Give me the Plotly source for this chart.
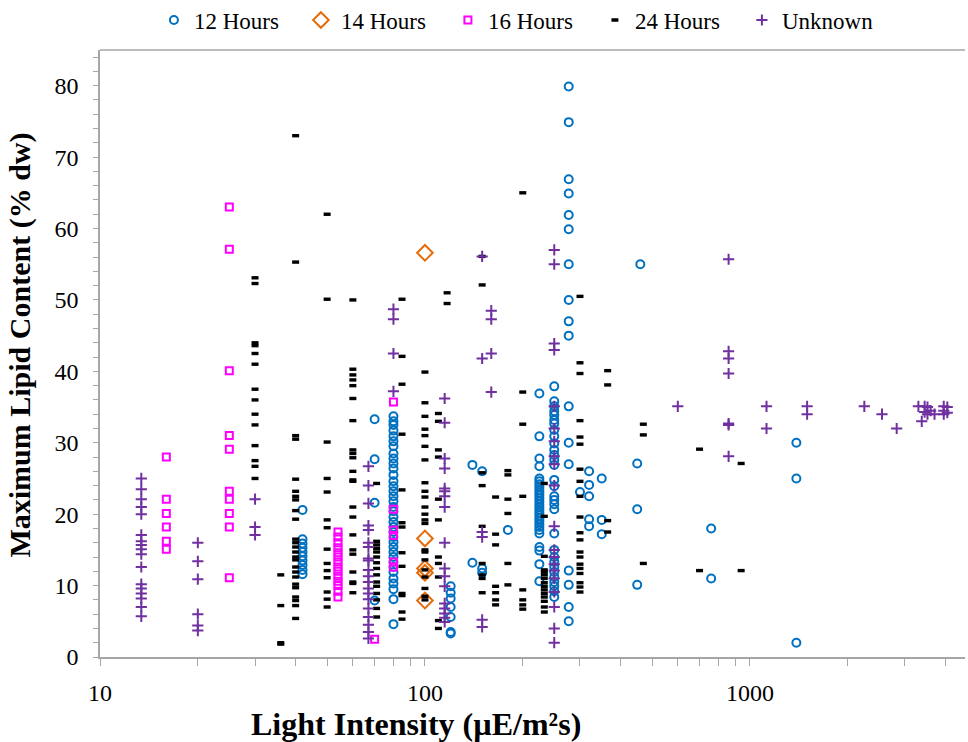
import plotly.graph_objects as go

# Light intensity (µE/m²s) -> maximum lipid content values (% dw), one dict per photoperiod
h12 = {
    42: [20.6, 16.5, 15.9, 15.3, 14.7, 14.1, 13.5, 12.9, 12.2, 11.6],
    70: [33.3, 27.7, 21.6, 7.9],
    80: [33.7, 33.0, 32.5, 31.7, 30.9, 30.2, 29.5, 28.5, 27.8, 27.1, 26.4, 25.5, 24.6, 23.9,
         23.2, 22.5, 21.8, 21.0, 20.4, 19.6, 18.9, 18.2, 17.5, 16.8, 16.1, 15.4, 14.7, 14.0,
         13.3, 12.6, 11.9, 11.0, 10.3, 9.5, 8.1, 4.6],
    120: [9.9, 9.0, 8.2, 7.0, 5.6, 3.5, 3.3],
    140: [26.9, 13.2],
    150: [26.0, 12.4, 11.8],
    180: [17.8],
    225: [36.9, 30.9, 27.8, 26.7, 25.0, 24.6, 24.2, 23.8, 23.4, 23.0, 22.6, 22.2, 21.8, 21.4,
          21.0, 20.6, 20.2, 19.8, 19.4, 19.0, 18.6, 18.2, 17.8, 17.3, 15.4, 14.9, 13.0, 10.6],
    250: [37.9, 35.8, 35.1, 34.4, 33.9, 33.2, 32.7, 31.8, 30.9, 29.9, 29.0, 28.3, 27.6, 26.9,
          24.8, 23.9, 22.5, 22.0, 21.4, 20.7, 17.3, 15.0, 14.0, 13.3, 12.6, 11.9, 11.2, 10.5,
          9.9, 9.2, 8.4],
    277: [79.9, 74.9, 66.9, 64.9, 61.9, 59.9, 55.0, 50.0, 47.0, 45.0, 35.1, 30.0, 27.0, 12.1,
          10.1, 7.0, 5.0],
    300: [23.1],
    320: [26.0, 24.1, 22.5, 19.3, 18.3],
    350: [25.0, 19.2, 17.2],
    450: [27.1, 20.7, 10.1],
    460: [55.0],
    760: [18.0, 11.0],
    1390: [30.0, 25.0, 2.0],
}

h14 = {
    100: [56.6, 16.6, 12.4, 11.8, 7.9],
}

h16 = {
    16: [28.0, 22.1, 20.1, 18.2, 16.2, 15.1],
    25: [63.0, 57.1, 40.1, 31.0, 29.1, 23.2, 22.1, 20.1, 18.2, 11.1],
    54: [17.5, 16.8, 16.0, 15.3, 14.6, 14.0, 13.3, 12.6, 12.0, 11.3, 10.6, 10.0, 9.2, 8.4],
    70: [2.5],
    80: [35.7, 20.7, 17.8, 17.0, 13.3, 12.6],
}

h24 = {
    30: [53.1, 52.3, 44.0, 43.6, 42.5, 41.0, 37.5, 36.0, 34.0, 32.5, 29.6, 27.5, 26.7, 25.0],
    36: [11.5, 7.2, 2.0, 1.8],
    40: [73.0, 55.3, 31.0, 30.5, 24.9, 23.2, 22.5, 22.0, 20.5, 19.3, 16.5, 16.0, 15.4, 14.7,
         14.0, 13.6, 12.6, 11.9, 11.2, 10.2, 9.7, 8.4, 7.9, 7.2, 5.4],
    50: [62.0, 50.1, 30.1, 25.0, 23.1, 19.2, 18.1, 15.1, 13.1, 12.1, 11.1, 9.1, 8.1, 7.0],
    60: [50.0, 40.3, 39.5, 38.8, 38.0, 36.2, 33.1, 29.0, 28.5, 27.9, 26.0, 24.8, 24.6, 21.0,
         19.6, 17.1, 15.0, 14.4, 11.9, 10.5, 10.3, 9.0],
    71: [24.3, 16.2, 15.7, 15.2, 14.7, 14.0, 13.2, 12.4, 11.5, 10.5, 9.9, 8.9, 8.0, 6.8, 5.6],
    85: [50.1, 42.1, 38.2, 31.2, 23.4, 18.8, 18.2, 14.6, 12.7, 8.9, 8.6, 6.3, 5.3],
    100: [39.9, 35.6, 33.7, 31.9, 31.0, 29.5, 27.6, 24.4, 23.2, 22.4, 21.0, 20.0, 19.2, 18.7,
          15.0, 14.7, 13.6, 12.2, 11.2, 9.6, 8.5, 8.0],
    110: [34.1, 33.0, 29.0, 28.0, 22.1, 19.2, 14.0, 13.1, 11.2, 5.1, 4.0],
    117: [51.0, 49.5],
    150: [56.1, 52.1, 25.8, 24.0, 18.3, 13.1, 11.5, 11.0, 9.0],
    165: [22.4, 17.2, 15.7, 9.9, 9.0, 8.0, 7.3],
    180: [26.1, 25.5, 22.1, 20.1, 13.1, 10.1],
    200: [65.0, 37.1, 32.6, 22.5, 9.4, 8.0, 7.3, 6.7],
    233: [24.3, 19.7, 14.1, 12.2, 11.9, 11.5, 11.0, 10.4, 9.9, 9.4, 8.9, 8.4, 7.8, 7.0, 6.3],
    300: [50.5, 41.2, 39.7, 33.1, 30.8, 29.8, 26.3, 24.6, 22.5, 19.6, 17.4, 16.4, 14.7, 14.0,
          13.0, 12.4, 11.7, 10.4, 9.8, 9.1],
    365: [40.1, 38.1, 19.1, 17.5],
    470: [32.6, 31.1, 13.1],
    700: [29.1, 12.1],
    940: [27.1, 12.1],
}

unknown = {
    13.4: [25.0, 23.5, 22.1, 21.0, 20.0, 17.1, 16.2, 15.7, 15.1, 14.4, 12.6, 10.2, 9.6, 8.9,
           8.2, 7.0, 5.7],
    20: [16.0, 13.4, 10.9, 6.0, 4.4, 3.7],
    30: [22.1, 18.2, 17.1],
    67: [26.7, 24.0, 21.5, 18.4, 17.8, 16.0, 15.4, 13.8, 13.5, 12.2, 11.3, 10.5, 9.6, 8.9,
         8.1, 6.8, 5.6, 4.5, 3.5, 2.6],
    80: [48.7, 47.3, 42.5, 37.2],
    115: [36.2, 32.8, 27.8, 26.4, 23.6, 23.2, 22.5, 21.0, 16.0, 12.4, 11.3, 9.9, 7.5, 6.8,
          6.1, 5.5, 4.9],
    150: [56.1, 41.8, 17.5, 16.8, 5.2, 4.2],
    160: [48.5, 47.3, 42.5, 37.1],
    250: [57.0, 55.0, 43.9, 43.0, 35.1, 32.0, 30.2, 28.1, 27.0, 24.0, 18.3, 15.0, 14.0, 13.0,
          12.1, 11.0, 9.1, 7.0, 4.0, 2.0],
    600: [35.1],
    860: [55.7, 42.8, 41.8, 39.7, 32.7, 32.5, 28.1],
    1125: [35.1, 32.0],
    1500: [35.1, 34.0],
    2250: [35.1],
    2550: [34.0],
    2830: [32.0],
    3300: [35.1],
    3380: [33.0],
    3450: [35.1, 34.3],
    3520: [35.0, 34.0],
    3600: [34.5],
    3700: [34.0],
    3950: [35.1, 34.5, 34.0],
    4050: [35.0, 34.2],
}

series_names = ["12 Hours", "14 Hours", "16 Hours", "24 Hours", "Unknown"]

x_tick_values = [10, 20, 30, 40, 50, 60, 70, 80, 90,
                 100, 200, 300, 400, 500, 600, 700, 800, 900,
                 1000, 2000, 3000, 4000]
x_tick_labels = ["10", "", "", "", "", "", "", "", "",
                 "100", "", "", "", "", "", "", "", "",
                 "1000", "", "", ""]
y_tick_values = list(range(0, 85, 2))
y_tick_labels = [str(v) if v % 10 == 0 else "" for v in y_tick_values]


def expand(columns):
    xs, ys = [], []
    for light, lipids in columns.items():
        for lip in lipids:
            xs.append(light)
            ys.append(lip)
    return xs, ys


styles = [
    dict(symbol="circle-open", size=8, color="#0070C0", line=dict(width=2, color="#0070C0")),
    dict(symbol="diamond-open", size=12, color="#E46C0A", line=dict(width=2, color="#E46C0A")),
    dict(symbol="square-open", size=7, color="#FF00FF", line=dict(width=2, color="#FF00FF")),
    dict(symbol="line-ew", size=5, color="#000000", line=dict(width=3.4, color="#000000")),
    dict(symbol="cross-thin", size=8, color="#7030A0", line=dict(width=2, color="#7030A0")),
]

fig = go.Figure()
for name, cols, mk in zip(series_names, [h12, h14, h16, h24, unknown], styles):
    xs, ys = expand(cols)
    fig.add_trace(go.Scatter(x=xs, y=ys, mode="markers", name=name, marker=mk))

axis_gray = "#A6A6A6"
serif = "Liberation Serif, Times New Roman, serif"

fig.update_layout(
    width=968,
    height=742,
    margin=dict(l=100, r=3, t=50, b=85, autoexpand=False),
    paper_bgcolor="white",
    plot_bgcolor="white",
    font=dict(family=serif, color="black"),
    showlegend=True,
    legend=dict(
        orientation="h",
        xref="container", yref="container",
        x=0.159, xanchor="left",
        y=0.973, yanchor="middle",
        font=dict(family=serif, size=23, color="black"),
        entrywidth=102,
        bgcolor="rgba(0,0,0,0)",
    ),
    xaxis=dict(
        type="log",
        range=[1, 3.662],
        tickvals=x_tick_values,
        ticktext=x_tick_labels,
        ticks="outside",
        ticklen=7,
        tickwidth=1.2,
        tickcolor=axis_gray,
        showline=True,
        linecolor=axis_gray,
        linewidth=1.5,
        showgrid=False,
        zeroline=False,
        tickfont=dict(family=serif, size=24, color="black"),
        ticklabelstandoff=6,
    ),
    yaxis=dict(
        range=[0, 85],
        tickvals=y_tick_values,
        ticktext=y_tick_labels,
        ticks="outside",
        ticklen=5,
        tickwidth=1.2,
        tickcolor=axis_gray,
        showline=True,
        linecolor=axis_gray,
        linewidth=1.5,
        showgrid=False,
        zeroline=False,
        tickfont=dict(family=serif, size=24, color="black"),
        ticklabelstandoff=10,
    ),
    shapes=[
        dict(type="line", xref="paper", yref="paper", x0=0, x1=1, y0=1, y1=1,
             line=dict(color=axis_gray, width=1.5)),
    ],
    annotations=[
        dict(text="<b>Light Intensity (µE/m²s)</b>", xref="paper", yref="paper",
             x=0.365, y=-0.111, xanchor="center", yanchor="middle", showarrow=False,
             font=dict(family=serif, size=32, color="black")),
        dict(text="<b>Maximum Lipid Content (% dw)</b>", xref="paper", yref="paper",
             x=-0.093, y=0.514, xanchor="center", yanchor="middle", showarrow=False,
             textangle=-90, font=dict(family=serif, size=30, color="black")),
    ],
)

fig.write_html("out.html")
